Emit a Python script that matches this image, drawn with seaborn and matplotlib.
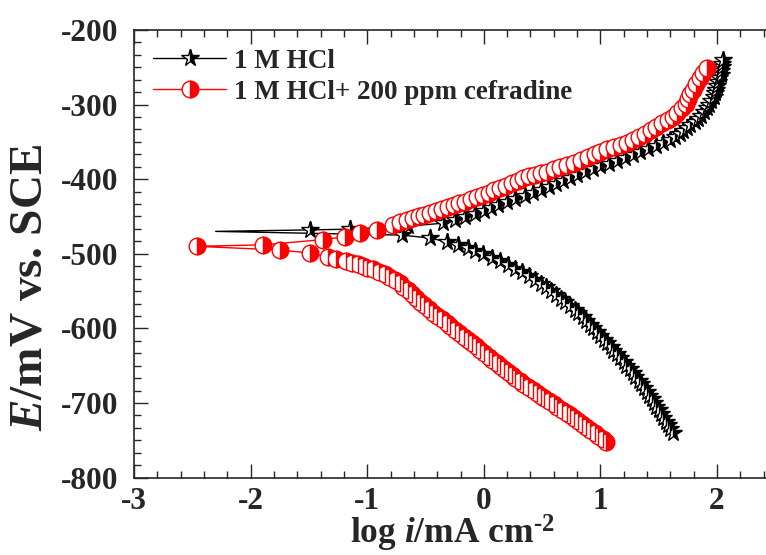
import matplotlib
matplotlib.use("Agg")
import matplotlib.pyplot as plt
import seaborn as sns
import pandas as pd
from matplotlib.ticker import AutoMinorLocator

# ---- data: 1 M HCl (blank) ----
blank_E = [-740, -735, -730, -725, -720, -715, -710, -705, -700, -695,
           -690, -685, -680, -675, -670, -665, -660, -655, -650, -645,
           -640, -635, -630, -625, -620, -615, -610, -605, -600, -595,
           -590, -585, -580, -575, -570, -565, -560, -555, -550, -545,
           -540, -535, -530, -525, -520, -515, -510, -505, -500, -496,
           -492, -488, -484, -479, -475, -470, -468, -467, -463, -459,
           -455, -451, -447, -443, -439, -435, -431, -427, -423, -419,
           -415, -411, -407, -403, -399, -395, -391, -387, -383, -379,
           -375, -371, -367, -363, -359, -355, -351, -347, -343, -339,
           -335, -331, -327, -323, -319, -315, -310, -305, -300, -295,
           -290, -285, -280, -275, -270, -265, -260, -255, -250, -245,
           -240]
blank_logi = [1.62, 1.60, 1.58, 1.56, 1.54, 1.52, 1.50, 1.48, 1.46, 1.44,
              1.42, 1.40, 1.37, 1.35, 1.33, 1.30, 1.28, 1.25, 1.22, 1.20,
              1.17, 1.14, 1.11, 1.09, 1.06, 1.03, 1.00, 0.97, 0.94, 0.91,
              0.88, 0.85, 0.81, 0.78, 0.74, 0.70, 0.66, 0.62, 0.58, 0.53,
              0.49, 0.44, 0.39, 0.33, 0.27, 0.21, 0.14, 0.07, -0.01, -0.08,
              -0.14, -0.22, -0.32, -0.46, -0.70, -2.30, -1.49, -1.15, -0.65, -0.35,
              -0.25, -0.16, -0.08, 0.00, 0.06, 0.12, 0.20, 0.27, 0.35, 0.42,
              0.49, 0.56, 0.62, 0.68, 0.74, 0.80, 0.87, 0.94, 1.00, 1.07,
              1.14, 1.21, 1.28, 1.34, 1.41, 1.48, 1.54, 1.60, 1.64, 1.68,
              1.71, 1.74, 1.77, 1.81, 1.84, 1.86, 1.89, 1.91, 1.93, 1.95,
              1.97, 1.98, 1.99, 2.00, 2.01, 2.02, 2.03, 2.03, 2.04, 2.04,
              2.05]

# ---- data: 1 M HCl + 200 ppm cefradine ----
inh_E = [-752, -748, -744, -740, -736, -732, -728, -724, -720, -716,
         -713, -709, -705, -701, -697, -693, -690, -686, -682, -678,
         -674, -670, -666, -662, -658, -655, -651, -647, -642, -638,
         -633, -629, -624, -620, -615, -611, -606, -602, -597, -593,
         -588, -584, -579, -574, -569, -564, -559, -554, -549, -544,
         -539, -535, -531, -527, -524, -521, -519, -516, -514, -512,
         -510, -507, -504, -499, -495, -490, -488, -481, -477, -472,
         -468, -461, -458, -455, -452, -450, -448, -446, -443, -440,
         -437, -435, -432, -430, -427, -424, -421, -418, -415, -412,
         -409, -405, -402, -399, -396, -394, -392, -390, -387, -384,
         -381, -378, -374, -370, -366, -363, -360, -357, -354, -352,
         -348, -344, -339, -334, -330, -325, -321, -317, -311, -305,
         -299, -292, -286, -280, -273, -265, -258, -251]
inh_logi = [1.05, 1.02, 0.98, 0.95, 0.91, 0.88, 0.84, 0.81, 0.77, 0.74,
            0.71, 0.67, 0.63, 0.60, 0.56, 0.52, 0.49, 0.46, 0.42, 0.38,
            0.34, 0.31, 0.27, 0.24, 0.21, 0.17, 0.14, 0.11, 0.07, 0.04,
            0.00, -0.03, -0.07, -0.10, -0.14, -0.17, -0.21, -0.25, -0.29, -0.32,
            -0.36, -0.40, -0.44, -0.47, -0.51, -0.55, -0.58, -0.62, -0.65, -0.69,
            -0.72, -0.76, -0.81, -0.85, -0.90, -0.95, -1.00, -1.04, -1.08, -1.13,
            -1.18, -1.27, -1.34, -1.49, -1.75, -2.46, -1.89, -1.38, -1.19, -1.06,
            -0.92, -0.78, -0.72, -0.66, -0.61, -0.56, -0.51, -0.46, -0.41, -0.36,
            -0.31, -0.26, -0.21, -0.16, -0.11, -0.06, -0.01, 0.04, 0.09, 0.14,
            0.19, 0.24, 0.29, 0.34, 0.39, 0.44, 0.49, 0.54, 0.60, 0.65,
            0.71, 0.77, 0.83, 0.89, 0.95, 1.00, 1.06, 1.12, 1.18, 1.23,
            1.28, 1.33, 1.38, 1.43, 1.48, 1.53, 1.58, 1.62, 1.66, 1.70,
            1.73, 1.75, 1.77, 1.79, 1.82, 1.85, 1.88, 1.91]

labels = ["1 M HCl", "1 M HCl+ 200 ppm cefradine"]
x_ticks = [-3, -2, -1, 0, 1, 2]
y_ticks = [-800, -700, -600, -500, -400, -300, -200]

sns.set_style("ticks")
plt.rcParams["font.family"] = ["Liberation Serif", "DejaVu Serif"]
plt.rcParams["font.weight"] = "bold"
plt.rcParams["mathtext.fontset"] = "custom"
plt.rcParams["mathtext.rm"] = "Liberation Serif:bold"
plt.rcParams["mathtext.it"] = "Liberation Serif:italic:bold"
plt.rcParams["mathtext.bf"] = "Liberation Serif:bold"

fig = plt.figure(figsize=(7.66, 5.55), dpi=100)
ax = fig.add_axes([0.175, 0.1395, 0.825, 0.8065])

df_b = pd.DataFrame({"x": blank_logi, "y": blank_E})
df_i = pd.DataFrame({"x": inh_logi, "y": inh_E})

skip_b = blank_E.index(-470)
mev_b = [k for k in range(len(blank_E)) if k != skip_b]

sns.lineplot(data=df_b, x="x", y="y", sort=False, estimator=None, ax=ax,
             color="black", lw=1.0, marker="*", markersize=13,
             fillstyle="right", markerfacecolor="black", markerfacecoloralt="white",
             markeredgecolor="black", markeredgewidth=1.0, markevery=mev_b,
             label=labels[0])
sns.lineplot(data=df_i, x="x", y="y", sort=False, estimator=None, ax=ax,
             color="red", lw=1.0, marker="o", markersize=12,
             fillstyle="right", markerfacecolor="red", markerfacecoloralt="white",
             markeredgecolor="red", markeredgewidth=1.0,
             label=labels[1])

ax.set_xlim(-3, 2.42)
ax.set_ylim(-800, -200)
ax.set_xticks(x_ticks)
ax.set_yticks(y_ticks)
ax.xaxis.set_minor_locator(AutoMinorLocator(5))
ax.yaxis.set_minor_locator(AutoMinorLocator(6))
ax.set_xticklabels([str(t) for t in x_ticks])
ax.set_yticklabels([str(t) for t in y_ticks])

ax.tick_params(which="both", direction="in", top=True, right=False, width=1.0)
ax.tick_params(which="major", length=10, labelsize=22.5)
ax.tick_params(axis="y", which="major", pad=11)
ax.tick_params(axis="x", which="major", pad=7)
ax.tick_params(which="minor", length=5)
for s in ["left", "bottom", "top"]:
    ax.spines[s].set_linewidth(1.2)
ax.spines["right"].set_visible(False)

ax.set_xlabel(r"log $\it{i}$/mA cm$^{\text{-2}}$", fontsize=25.5, fontweight="bold")
ax.xaxis.set_label_coords(0.503, -0.080)
ax.set_ylabel(r"$\it{E}$/mV vs. SCE", fontsize=34, fontweight="bold")
ax.yaxis.set_label_coords(-0.13, 0.425)

h, l = ax.get_legend_handles_labels()
ax.legend(h, l, loc="upper left", bbox_to_anchor=(0.0, 1.0), frameon=False,
          handlelength=2.7, handletextpad=0.3, labelspacing=0.22,
          borderaxespad=0.3, prop={"family": "Liberation Serif", "weight": "bold", "size": 19.5})

fig.savefig("out.png", dpi=100)
